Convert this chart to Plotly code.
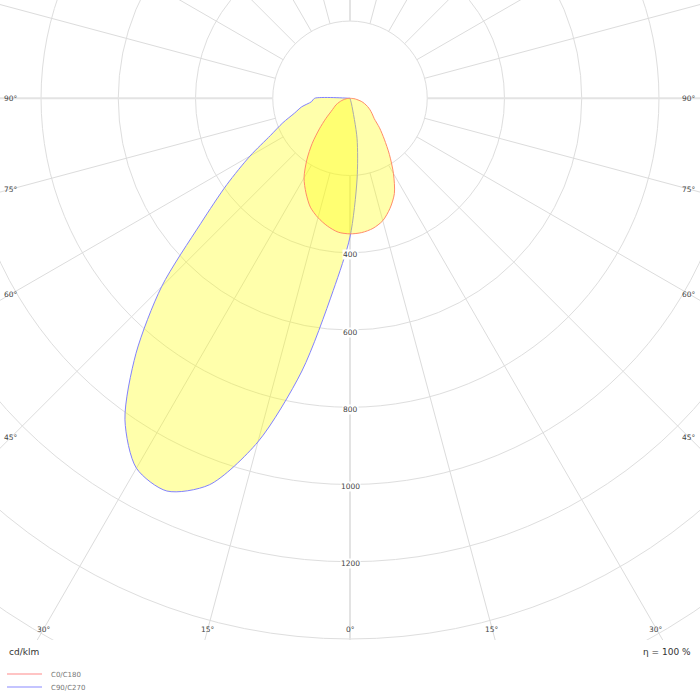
import numpy as np
import plotly.graph_objects as go

# angle from nadir in degrees; negative = right half (C0 / C90), positive = left half (C180 / C270)
gamma = list(range(-90, 95, 5))

c0_c180 = [0, 10, 18, 30, 40, 50, 60, 70, 82, 108, 138, 178, 225, 272, 303, 328, 342, 349,
           351,
           348, 336, 320, 300, 270, 238, 195, 152, 112, 82, 60, 48, 40, 30, 22, 14, 8, 0]

c90_c270 = [0, 0, 0, 0, 0, 0, 0, 0, 0, 0, 0, 0, 0, 0, 0, 15, 105, 210,
            359,
            500, 717, 921, 1065, 1122, 1106, 1016, 862, 690, 505, 389, 299, 227, 185, 149, 127, 100, 92]

series_names = ["C0/C180", "C90/C270"]
ring_values = [200, 400, 600, 800, 1000, 1200, 1400, 1600, 1800]
ring_labels = [400, 600, 800, 1000, 1200]
spoke_angles = list(range(0, 360, 15))
angle_ticks = [-90, -75, -60, -45, -30, -15, 0, 15, 30, 45, 60, 75, 90]
unit_text = "cd/klm"
eta_text = "η = 100 %"

# pixel scale of the diagram
PX = 0.3862          # px per cd
CY = 98.3            # centre, px from top
W, H, PLOT_H = 700, 700, 640

line_cols = ["rgb(255,140,105)", "rgb(130,130,255)"]
legend_cols = ["#ffc4c4", "#c4c4ff"]
font = "DejaVu Sans"


def to_xy(angles, values):
    a = np.radians(np.array(angles, dtype=float))
    v = np.array(values, dtype=float)
    return -v * np.sin(a), -v * np.cos(a)


fig = go.Figure()

# grid: rings
shapes = []
for rv in ring_values:
    shapes.append(dict(type="circle", xref="x", yref="y", x0=-rv, x1=rv, y0=-rv, y1=rv,
                       line=dict(color="#dedede", width=1), layer="below"))

# grid: spokes starting at the first ring
for ang in spoke_angles:
    (x0, x1), (y0, y1) = to_xy([ang, ang], [ring_values[0], 3000])
    main = ang % 90 == 0
    shapes.append(dict(type="line", xref="x", yref="y", x0=x0, y0=y0, x1=x1, y1=y1,
                       line=dict(color="#e3e3e3" if main else "#dcdcdc", width=2 if main else 1),
                       layer="below"))

# curves
for vals, name, col in [(c90_c270, series_names[1], line_cols[1]),
                        (c0_c180, series_names[0], line_cols[0])]:
    x, y = to_xy(gamma + [gamma[0]], vals + [vals[0]])
    fig.add_trace(go.Scatter(x=x, y=y, mode="lines", name=name, fill="toself",
                             fillcolor="rgba(255,255,0,0.33)",
                             line=dict(color=col, width=1, shape="spline", smoothing=0.8),
                             hoverinfo="skip"))

annotations = []
# radial labels
for rv in ring_labels:
    annotations.append(dict(x=0, y=-rv, xref="x", yref="y", text=str(rv), showarrow=False,
                            xanchor="center", yanchor="middle", yshift=-2, bgcolor="white",
                            borderpad=0, font=dict(family=font, size=7.5, color="#444")))

# angle labels placed where each spoke meets an inset box
side_x = (W / 2 - 11) / PX
bottom_y = -(629 - CY) / PX
for ang in angle_ticks:
    t = np.radians(ang)
    if abs(ang) < 1e-9 or abs(bottom_y * np.tan(t)) < side_x:
        lx, ly = bottom_y * np.tan(t), bottom_y
    else:
        lx = -side_x * np.sign(ang)
        ly = -side_x / np.tan(abs(t))
    annotations.append(dict(x=lx, y=ly, xref="x", yref="y", text=f"{abs(ang)}°", showarrow=False,
                            xanchor="center", yanchor="middle",
                            font=dict(family=font, size=7.5, color="#444")))

# footer
annotations.append(dict(x=7 / W, y=(H - 652) / H, xref="paper", yref="paper", text=unit_text,
                        showarrow=False, xanchor="left", yanchor="middle",
                        font=dict(family=font, size=9, color="#333")))
annotations.append(dict(x=693 / W, y=(H - 652) / H, xref="paper", yref="paper", text=eta_text,
                        showarrow=False, xanchor="right", yanchor="middle",
                        font=dict(family=font, size=9, color="#333")))
for i, name in enumerate(series_names):
    ypx = 674 + 13 * i
    shapes.append(dict(type="line", xref="paper", yref="paper", x0=7 / W, x1=42 / W,
                       y0=(H - ypx) / H, y1=(H - ypx) / H,
                       line=dict(color=legend_cols[i], width=2)))
    annotations.append(dict(x=49 / W, y=(H - ypx - 1) / H, xref="paper", yref="paper", text=name,
                            showarrow=False, xanchor="left", yanchor="middle",
                            font=dict(family=font, size=7, color="#777")))

fig.update_layout(
    width=W, height=H,
    margin=dict(l=0, r=0, t=0, b=0),
    paper_bgcolor="white", plot_bgcolor="white",
    showlegend=False,
    shapes=shapes,
    annotations=annotations,
    xaxis=dict(range=[-W / 2 / PX, W / 2 / PX], domain=[0, 1], visible=False, fixedrange=True),
    yaxis=dict(range=[-(PLOT_H - CY) / PX, CY / PX], domain=[(H - PLOT_H) / H, 1],
               visible=False, fixedrange=True),
)

# the page body has a default margin; drop it so the 700x700 figure fills the window
fig.write_html("out.html", config={"displayModeBar": False},
               post_script="document.body.style.margin='0';")
